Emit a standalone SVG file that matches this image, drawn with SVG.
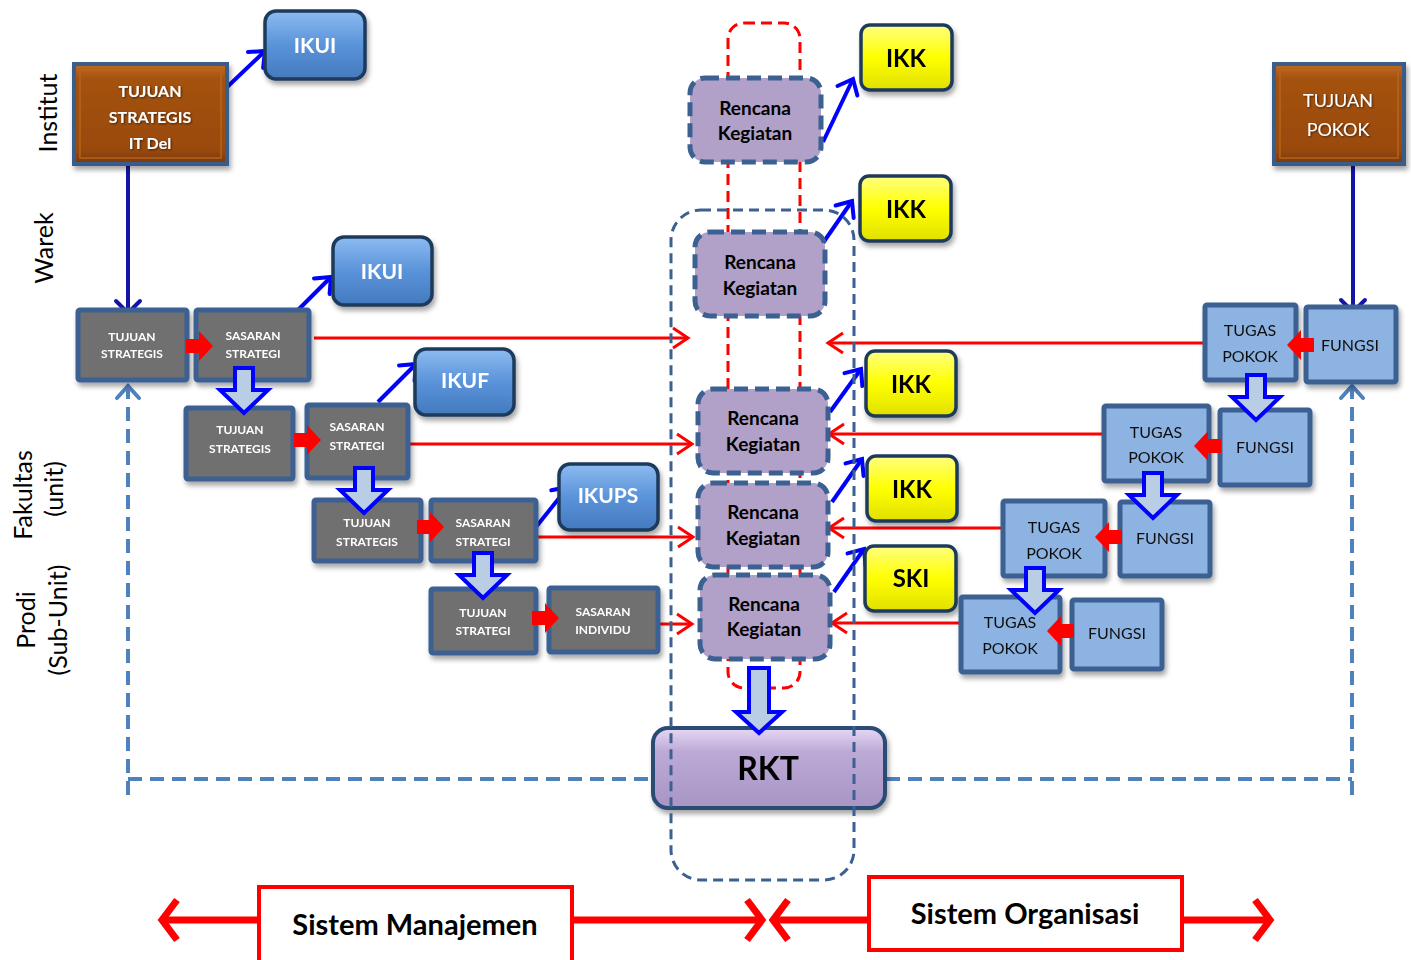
<svg xmlns="http://www.w3.org/2000/svg" width="1411" height="960" viewBox="0 0 1411 960">
<style>
.lbl{font-family:Lato,"Open Sans",sans-serif;font-size:25px;fill:#000}
.gbox{fill:#707070;stroke:#3B6091;stroke-width:5}
.bbox{fill:#8DB3E2;stroke:#3B6091;stroke-width:5}
.gt{font-family:Lato,"Open Sans",sans-serif;font-weight:bold;font-size:12px;fill:#fff;text-anchor:middle}
.bt{font-family:Lato,"Open Sans",sans-serif;font-size:16px;fill:#111;text-anchor:middle}
.iku{fill:url(#gIku);stroke:#1F3B5C;stroke-width:3.5}
.ikut{font-family:Lato,"Open Sans",sans-serif;font-weight:bold;font-size:21px;fill:#fff;text-anchor:middle}
.ikk{fill:url(#gYel);stroke:#1F3B5C;stroke-width:3.5}
.ikkt{font-family:Lato,"Open Sans",sans-serif;font-weight:bold;font-size:24px;fill:#000;text-anchor:middle}
.rk{fill:#B1A0C7;stroke:#3B6091;stroke-width:5;stroke-dasharray:14 7}
.rkt{font-family:Lato,"Open Sans",sans-serif;font-weight:bold;font-size:19px;fill:#000;text-anchor:middle}
.brown{fill:url(#gBrown);stroke:#385D8A;stroke-width:4}
.bluearr{stroke:#0000FF;stroke-width:4;fill:none;marker-end:url(#aBlue)}
.navy{stroke:#1414A8;stroke-width:4;fill:none;marker-end:url(#aNavy)}
.redl{stroke:#FF0000;stroke-width:3;fill:none;marker-end:url(#aRed)}
.dashl{stroke:#4F81BD;stroke-width:4;fill:none;stroke-dasharray:14 8}
.hol{fill:#B9CDE5;stroke:#0000FF;stroke-width:4;stroke-linejoin:miter}
.ra{fill:#FF0000}
.big{stroke:#FF0000;stroke-width:7;fill:none;marker-end:url(#aBig)}
.sys{fill:#fff;stroke:#FF0000;stroke-width:4}
.syst{font-family:Lato,"Open Sans",sans-serif;font-weight:bold;font-size:29px;fill:#000;text-anchor:middle}
</style>
<defs>
<linearGradient id="gIku" x1="0" y1="0" x2="0" y2="1"><stop offset="0" stop-color="#8DBBF0"/><stop offset="0.5" stop-color="#5A93DA"/><stop offset="1" stop-color="#4479BE"/></linearGradient>
<linearGradient id="gYel" x1="0" y1="0" x2="0" y2="1"><stop offset="0" stop-color="#FFFF80"/><stop offset="0.5" stop-color="#FFFF00"/><stop offset="1" stop-color="#E0E000"/></linearGradient>
<linearGradient id="gBrown" x1="0" y1="0" x2="0" y2="1"><stop offset="0" stop-color="#C06A22"/><stop offset="0.15" stop-color="#A4520F"/><stop offset="0.85" stop-color="#9A4A0C"/><stop offset="1" stop-color="#7A3808"/></linearGradient>
<linearGradient id="gRkt" x1="0" y1="0" x2="0" y2="1"><stop offset="0" stop-color="#E6D8F5"/><stop offset="0.3" stop-color="#BCA9D6"/><stop offset="1" stop-color="#A895C4"/></linearGradient>
<filter id="sh" x="-20%" y="-20%" width="150%" height="160%"><feDropShadow dx="2" dy="4" stdDeviation="2.5" flood-color="#000" flood-opacity="0.35"/></filter>
<filter id="ts" x="-10%" y="-30%" width="130%" height="160%"><feDropShadow dx="1" dy="1" stdDeviation="0.8" flood-color="#000" flood-opacity="0.6"/></filter>
<marker id="aBlue" markerUnits="userSpaceOnUse" viewBox="-20 -15 26 30" markerWidth="26" markerHeight="30" refX="0" refY="0" orient="auto" overflow="visible"><path d="M-13,-11 L0,0 L-13,11" fill="none" stroke="#0000FF" stroke-width="4" stroke-dasharray="none" stroke-linecap="round"/></marker>
<marker id="aNavy" markerUnits="userSpaceOnUse" viewBox="-20 -15 26 30" markerWidth="26" markerHeight="30" refX="0" refY="0" orient="auto" overflow="visible"><path d="M-12,-12 L0,0 L-12,12" fill="none" stroke="#1414A8" stroke-width="4" stroke-dasharray="none" stroke-linecap="round"/></marker>
<marker id="aRed" markerUnits="userSpaceOnUse" viewBox="-20 -15 26 30" markerWidth="26" markerHeight="30" refX="0" refY="0" orient="auto" overflow="visible"><path d="M-15,-10 L0,0 L-15,10" fill="none" stroke="#FF0000" stroke-width="3" stroke-dasharray="none"/></marker>
<marker id="aDash" markerUnits="userSpaceOnUse" viewBox="-20 -15 26 30" markerWidth="26" markerHeight="30" refX="0" refY="0" orient="auto" overflow="visible"><path d="M-12,-11 L0,0 L-12,11" fill="none" stroke="#4F81BD" stroke-width="4" stroke-dasharray="none" stroke-linecap="round"/></marker>
<marker id="aBig" markerUnits="userSpaceOnUse" viewBox="-30 -30 40 60" markerWidth="40" markerHeight="60" refX="0" refY="0" orient="auto" overflow="visible"><path d="M-15,-20 L0,0 L-15,20" fill="none" stroke="#FF0000" stroke-width="7" stroke-dasharray="none"/></marker>
<path id="ra" d="M0,-7 H13 V-15 L27,0 L13,15 V7 H0 Z"/>
<path id="ho" d="M-9,0 H9 V22 H24 L0,45 L-24,22 H-9 Z"/>
</defs>

<g id="side-labels">
<text class="lbl" text-anchor="middle" transform="translate(57,113) rotate(-90)">Institut</text>
<text class="lbl" text-anchor="middle" transform="translate(53,248) rotate(-90)">Warek</text>
<text class="lbl" text-anchor="middle" transform="translate(32,495) rotate(-90)">Fakultas</text>
<text class="lbl" text-anchor="middle" transform="translate(63,489) rotate(-90)">(unit)</text>
<text class="lbl" text-anchor="middle" transform="translate(35,620) rotate(-90)">Prodi</text>
<text class="lbl" text-anchor="middle" transform="translate(67,620) rotate(-90)">(Sub-Unit)</text>
</g>

<g id="frame-red">
<rect x="728" y="23" width="72" height="665" rx="16" fill="none" stroke="#FF0000" stroke-width="3" stroke-dasharray="11 6"/>
</g>

<g id="connectors">
<path class="bluearr" d="M224,90 L265,51"/>
<path class="bluearr" d="M292,316 L331,277"/>
<path class="bluearr" d="M378,402 L416,364"/>
<path class="bluearr" d="M536,527 L568,487"/>
<path class="bluearr" d="M823,142 L853,79"/>
<path class="bluearr" d="M823,243 L852,201"/>
<path class="bluearr" d="M830,412 L861,369"/>
<path class="bluearr" d="M832,502 L862,459"/>
<path class="bluearr" d="M834,592 L864,549"/>
<path class="navy" d="M128,166 V313"/>
<path class="navy" d="M1353,162 V312"/>
<path class="redl" d="M314,338 H688"/>
<path class="redl" d="M409,444 H692"/>
<path class="redl" d="M537,537 H693"/>
<path class="redl" d="M659,624 H692"/>
<path class="redl" d="M1203,343 H828"/>
<path class="redl" d="M1102,434 H829"/>
<path class="redl" d="M1002,528 H829"/>
<path class="redl" d="M960,623 H832"/>
<path class="dashl" d="M128,795 V386" marker-end="url(#aDash)"/>
<path class="dashl" d="M128,779 H654"/>
<path class="dashl" d="M886,779 H1352"/>
<path class="dashl" d="M1352,795 V386" marker-end="url(#aDash)"/>
</g>

<g id="n-tujuan-itdel" filter="url(#sh)">
<rect class="brown" x="74" y="64" width="153" height="100"/>
<rect x="80" y="70" width="141" height="88" fill="none" stroke="#B8651F" stroke-width="2" opacity="0.7"/>
<g filter="url(#ts)" font-family="Lato,'Open Sans',sans-serif" font-weight="bold" font-size="16" fill="#fff" text-anchor="middle">
<text x="150" y="97">TUJUAN</text><text x="150" y="123">STRATEGIS</text><text x="150" y="149">IT Del</text></g>
</g>
<g id="n-ikui1" filter="url(#sh)"><rect class="iku" x="265" y="11" width="100" height="68" rx="11"/><text class="ikut" x="315" y="53">IKUI</text></g>
<g id="n-ikui2" filter="url(#sh)"><rect class="iku" x="333" y="237" width="99" height="68" rx="11"/><text class="ikut" x="382" y="279">IKUI</text></g>
<g id="n-ikuf" filter="url(#sh)"><rect class="iku" x="415" y="349" width="99" height="66" rx="11"/><text class="ikut" x="465" y="388" font-size="20">IKUF</text></g>
<g id="n-ikups" filter="url(#sh)"><rect class="iku" x="559" y="464" width="99" height="66" rx="11"/><text class="ikut" x="608" y="503" font-size="16">IKUPS</text></g>

<g id="n-ts1" filter="url(#sh)"><rect class="gbox" x="78" y="310" width="109" height="70" rx="2"/><text class="gt" x="132" y="341">TUJUAN</text><text class="gt" x="132" y="358">STRATEGIS</text></g>
<g id="n-ss1" filter="url(#sh)"><rect class="gbox" x="196" y="310" width="113" height="70" rx="2"/><text class="gt" x="253" y="340">SASARAN</text><text class="gt" x="253" y="358">STRATEGI</text></g>
<g id="n-ts2" filter="url(#sh)"><rect class="gbox" x="186" y="408" width="107" height="71" rx="2"/><text class="gt" x="240" y="434">TUJUAN</text><text class="gt" x="240" y="453">STRATEGIS</text></g>
<g id="n-ss2" filter="url(#sh)"><rect class="gbox" x="307" y="405" width="101" height="73" rx="2"/><text class="gt" x="357" y="431">SASARAN</text><text class="gt" x="357" y="450">STRATEGI</text></g>
<g id="n-ts3" filter="url(#sh)"><rect class="gbox" x="314" y="500" width="107" height="61" rx="2"/><text class="gt" x="367" y="527">TUJUAN</text><text class="gt" x="367" y="546">STRATEGIS</text></g>
<g id="n-ss3" filter="url(#sh)"><rect class="gbox" x="431" y="500" width="105" height="61" rx="2"/><text class="gt" x="483" y="527">SASARAN</text><text class="gt" x="483" y="546">STRATEGI</text></g>
<g id="n-ts4" filter="url(#sh)"><rect class="gbox" x="431" y="589" width="105" height="64" rx="2"/><text class="gt" x="483" y="617">TUJUAN</text><text class="gt" x="483" y="635">STRATEGI</text></g>
<g id="n-si" filter="url(#sh)"><rect class="gbox" x="549" y="588" width="109" height="64" rx="2"/><text class="gt" x="603" y="616">SASARAN</text><text class="gt" x="603" y="634">INDIVIDU</text></g>

<g id="n-rk1"><rect class="rk" x="690" y="78" width="131" height="84" rx="15"/><text class="rkt" x="755" y="115">Rencana</text><text class="rkt" x="755" y="140">Kegiatan</text></g>
<g id="n-rk2"><rect class="rk" x="695" y="232" width="130" height="84" rx="15"/><text class="rkt" x="760" y="269">Rencana</text><text class="rkt" x="760" y="295">Kegiatan</text></g>
<g id="n-rk3"><rect class="rk" x="698" y="389" width="130" height="84" rx="15"/><text class="rkt" x="763" y="425">Rencana</text><text class="rkt" x="763" y="451">Kegiatan</text></g>
<g id="n-rk4"><rect class="rk" x="698" y="483" width="130" height="84" rx="15"/><text class="rkt" x="763" y="519">Rencana</text><text class="rkt" x="763" y="545">Kegiatan</text></g>
<g id="n-rk5"><rect class="rk" x="700" y="575" width="130" height="84" rx="15"/><text class="rkt" x="764" y="611">Rencana</text><text class="rkt" x="764" y="636">Kegiatan</text></g>

<g id="n-ikk1" filter="url(#sh)"><rect class="ikk" x="861" y="25" width="91" height="65" rx="9"/><text class="ikkt" x="906" y="67">IKK</text></g>
<g id="n-ikk2" filter="url(#sh)"><rect class="ikk" x="860" y="176" width="91" height="65" rx="9"/><text class="ikkt" x="906" y="218">IKK</text></g>
<g id="n-ikk3" filter="url(#sh)"><rect class="ikk" x="866" y="351" width="90" height="65" rx="9"/><text class="ikkt" x="911" y="393">IKK</text></g>
<g id="n-ikk4" filter="url(#sh)"><rect class="ikk" x="867" y="456" width="90" height="65" rx="9"/><text class="ikkt" x="912" y="498">IKK</text></g>
<g id="n-ski" filter="url(#sh)"><rect class="ikk" x="865" y="546" width="91" height="65" rx="9"/><text class="ikkt" x="911" y="587">SKI</text></g>

<g id="n-rkt" filter="url(#sh)"><rect x="653" y="728" width="232" height="80" rx="15" fill="url(#gRkt)" stroke="#2C4B73" stroke-width="4"/><text x="768" y="780" font-family="Lato,'Open Sans',sans-serif" font-weight="bold" font-size="32" fill="#000" text-anchor="middle">RKT</text></g>

<g id="frame-blue">
<rect x="671" y="210" width="183" height="670" rx="30" fill="none" stroke="#3B6091" stroke-width="3" stroke-dasharray="10 6"/>
</g>

<g id="n-tujuan-pokok" filter="url(#sh)">
<rect class="brown" x="1274" y="64" width="130" height="100"/>
<rect x="1280" y="70" width="118" height="88" fill="none" stroke="#B8651F" stroke-width="2" opacity="0.7"/>
<g filter="url(#ts)" font-family="Lato,'Open Sans',sans-serif" font-size="18" fill="#fff" text-anchor="middle"><text x="1338" y="107">TUJUAN</text><text x="1338" y="136">POKOK</text></g>
</g>
<g id="n-tp1" filter="url(#sh)"><rect class="bbox" x="1205" y="305" width="91" height="75" rx="2"/><text class="bt" x="1250" y="336">TUGAS</text><text class="bt" x="1250" y="362">POKOK</text></g>
<g id="n-f1" filter="url(#sh)"><rect class="bbox" x="1306" y="307" width="90" height="75" rx="2"/><text class="bt" x="1350" y="351">FUNGSI</text></g>
<g id="n-tp2" filter="url(#sh)"><rect class="bbox" x="1104" y="406" width="105" height="75" rx="2"/><text class="bt" x="1156" y="438">TUGAS</text><text class="bt" x="1156" y="463">POKOK</text></g>
<g id="n-f2" filter="url(#sh)"><rect class="bbox" x="1220" y="410" width="90" height="75" rx="2"/><text class="bt" x="1265" y="453">FUNGSI</text></g>
<g id="n-tp3" filter="url(#sh)"><rect class="bbox" x="1003" y="501" width="102" height="75" rx="2"/><text class="bt" x="1054" y="533">TUGAS</text><text class="bt" x="1054" y="559">POKOK</text></g>
<g id="n-f3" filter="url(#sh)"><rect class="bbox" x="1120" y="502" width="90" height="74" rx="2"/><text class="bt" x="1165" y="544">FUNGSI</text></g>
<g id="n-tp4" filter="url(#sh)"><rect class="bbox" x="961" y="597" width="99" height="75" rx="2"/><text class="bt" x="1010" y="628">TUGAS</text><text class="bt" x="1010" y="654">POKOK</text></g>
<g id="n-f4" filter="url(#sh)"><rect class="bbox" x="1072" y="600" width="90" height="69" rx="2"/><text class="bt" x="1117" y="639">FUNGSI</text></g>

<g id="flow-arrows">
<use href="#ra" class="ra" transform="translate(186,346)"/>
<use href="#ra" class="ra" transform="translate(294,440)"/>
<use href="#ra" class="ra" transform="translate(417,527)"/>
<use href="#ra" class="ra" transform="translate(532,618)"/>
<use href="#ra" class="ra" transform="translate(1314,345) scale(-1,1)"/>
<use href="#ra" class="ra" transform="translate(1221,446) scale(-1,1)"/>
<use href="#ra" class="ra" transform="translate(1122,537) scale(-1,1)"/>
<use href="#ra" class="ra" transform="translate(1074,631) scale(-1,1)"/>
<use href="#ho" class="hol" transform="translate(244,368)"/>
<use href="#ho" class="hol" transform="translate(364,468)"/>
<use href="#ho" class="hol" transform="translate(483,553)"/>
<use href="#ho" class="hol" transform="translate(1256,375)"/>
<use href="#ho" class="hol" transform="translate(1153,473)"/>
<use href="#ho" class="hol" transform="translate(1035,568)"/>
<path class="hol" d="M749,668 H769 V712 H782 L759,733 L736,712 H749 Z"/>
</g>

<g id="bottom-arrows">
<path class="big" d="M258,920 H162"/>
<path class="big" d="M573,920 H762"/>
<path class="big" d="M868,920 H773"/>
<path class="big" d="M1183,920 H1270"/>
</g>
<g id="n-sm"><rect class="sys" x="259" y="887" width="313" height="76"/><text class="syst" x="415" y="935">Sistem Manajemen</text></g>
<g id="n-so"><rect class="sys" x="869" y="877" width="313" height="73"/><text class="syst" x="1025" y="924">Sistem Organisasi</text></g>
</svg>
